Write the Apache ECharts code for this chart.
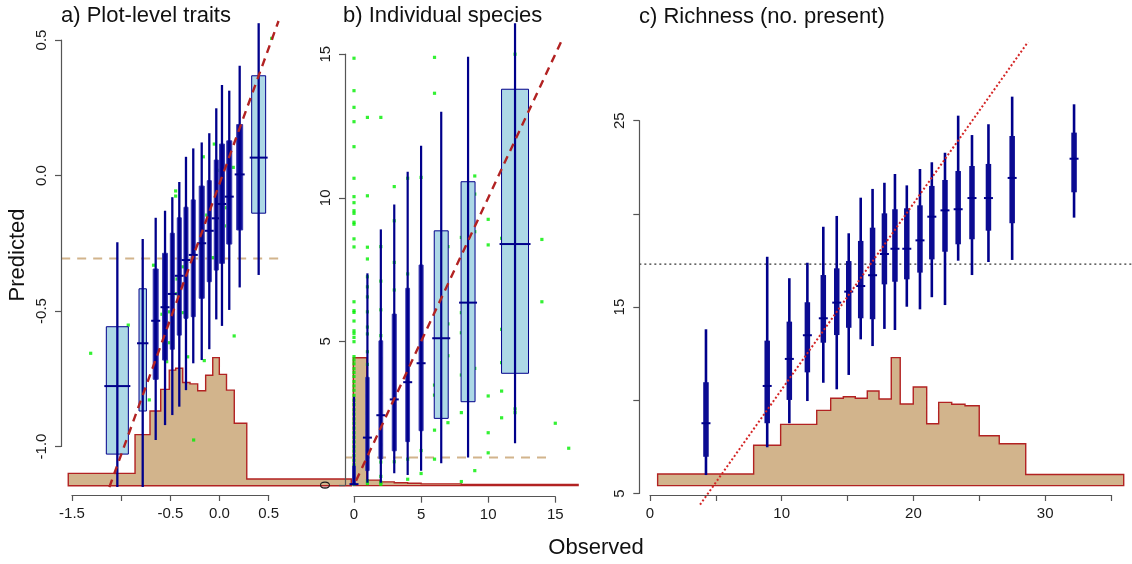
<!DOCTYPE html>
<html>
<head>
<meta charset="utf-8">
<script src="https://cdn.jsdelivr.net/npm/echarts@6/dist/echarts.min.js"></script>
<style>
  html, body { margin: 0; padding: 0; background: #ffffff; }
  #chart { width: 1132px; height: 564px; }
</style>
</head>
<body>
<div id="chart"></div>
<script>
// ---------- a) Plot-level traits ----------
const boxXA   = [-1.039, -0.781, -0.649, -0.554, -0.480, -0.409, -0.341, -0.267, -0.181, -0.104, -0.033, 0.025, 0.099, 0.205, 0.398];
const lowA    = [-1.250, -1.250, -0.976, -0.921, -0.884, -0.853, -0.792, -0.693, -0.681, -0.641, -0.531, -0.555, -0.496, -0.413, -0.367];
const q1A     = [-1.028, -0.869, -0.752, -0.681, -0.641, -0.589, -0.527, -0.521, -0.453, -0.392, -0.349, -0.324, -0.253, -0.201, -0.139];
const medA    = [-0.777, -0.619, -0.536, -0.486, -0.437, -0.370, -0.312, -0.293, -0.250, -0.204, -0.158, -0.105, -0.078, 0.004, 0.066];
const q3A     = [-0.558, -0.418, -0.345, -0.287, -0.213, -0.156, -0.117, -0.090, -0.039, -0.019, 0.057, 0.116, 0.128, 0.188, 0.368];
const highA   = [-0.246, -0.234, -0.156, -0.130, -0.080, -0.024, 0.069, 0.100, 0.122, 0.156, 0.248, 0.334, 0.313, 0.405, 0.562];
const widthA  = [0.224, 0.075, 0.051, 0.051, 0.041, 0.041, 0.041, 0.041, 0.051, 0.041, 0.041, 0.051, 0.051, 0.061, 0.142];
const pointsA = [
  [0.530, 0.506], [-0.446, -0.057], [-0.446, -0.076], [-0.671, -0.331], [-0.376, -0.337],
  [-0.165, 0.069], [-0.053, 0.116], [-0.007, 0.019], [0.140, 0.030], [-0.130, -0.146],
  [0.073, -0.119], [0.049, -0.186], [-0.071, -0.303], [-1.310, -0.656], [-0.928, -0.552],
  [-0.714, -0.828], [-0.585, -0.512], [-0.514, -0.503], [-0.470, -0.473], [-0.435, -0.436],
  [-0.512, -0.617], [-0.537, -0.687], [-0.324, -0.669], [-0.155, -0.683], [0.149, -0.592],
  [-0.263, -0.976], [-0.374, -0.506], [-0.432, -0.382]
];
const histEdgesA   = [-1.538, -0.859, -0.707, -0.598, -0.511, -0.446, -0.374, -0.300, -0.222, -0.141, -0.069, -0.002, 0.071, 0.150, 0.277, 1.340];
const histHeightsA = [-1.099, -0.956, -0.869, -0.789, -0.718, -0.711, -0.764, -0.769, -0.794, -0.737, -0.672, -0.734, -0.792, -0.914, -1.120];
const histBaseA = -1.145;
const diagA  = [[-1.12, -1.15], [0.60, 0.57]];
const hlineA = [[-1.61, -0.306], [0.615, -0.306]];

// ---------- b) Individual species ----------
const boxXB  = [0, 1, 2, 3, 4, 5, 6.5, 8.5, 12];
const lowB   = [0.00, 0.08, 0.08, 0.41, 0.35, 0.50, 0.76, 0.96, 1.45];
const q1B    = [0.00, 0.50, 0.91, 1.19, 1.51, 1.89, 2.32, 2.90, 3.89];
const medB   = [0.03, 1.65, 2.43, 2.98, 3.58, 4.24, 5.11, 6.35, 8.39];
const q3B    = [0.66, 3.75, 5.02, 5.95, 6.85, 7.66, 8.85, 10.56, 13.78];
const highB  = [3.07, 7.37, 8.90, 9.77, 10.91, 11.81, 13.00, 14.91, 16.08];
const widthB = [0.22, 0.25, 0.28, 0.30, 0.28, 0.30, 1.04, 1.04, 2.01];
const pointsBy = {
  0:  [14.86, 13.73, 13.15, 12.65, 11.78, 10.68, 10.04, 9.83, 9.55, 9.46, 9.15, 9.08, 8.57, 8.29, 6.38, 6.07, 6.01, 5.71, 5.37, 5.28, 5.14, 4.99, 4.47, 4.35, 4.22, 4.05, 3.92, 3.78, 3.60, 3.45, 3.30, 3.12, 2.95, 2.80, 2.62, 2.47, 2.30, 2.15, 1.98, 1.82, 1.66, 1.50, 1.33, 1.18, 1.02, 0.86, 0.70, 0.55, 0.40, 0.25, 0.10, 0.02],
  1:  [12.80, 10.07, 8.28, 7.87, 7.25, 6.90, 6.55, 6.03, 5.50, 5.26, 4.64, 4.20, 3.60, 3.10, 2.50, 1.90, 1.20, 0.60, 0.15, 0.05],
  2:  [12.80, 8.30, 7.10, 6.10, 5.20, 4.40, 3.20, 2.10, 1.40, 0.80, 0.30, 0.10, 0.02],
  3:  [10.39, 9.20, 7.75, 6.79, 5.00, 3.48, 2.73, 1.68, 1.33, 0.81],
  4:  [10.68, 7.35, 5.75, 5.05, 3.90, 2.20, 0.90, 0.20],
  5:  [10.71, 6.90, 4.60, 2.60, 1.20, 0.40],
  6:  [14.89, 13.64, 3.48, 3.13, 1.91, 0.90],
  7:  [8.30, 5.61, 4.50, 2.17],
  8:  [8.62, 6.00, 5.30, 3.83, 2.52, 0.12],
  9:  [10.76, 10.13, 8.82, 4.06, 0.50],
  10: [9.25, 8.36, 3.10, 1.82, 1.12],
  11: [8.59, 5.42, 4.26, 3.27, 2.34],
  12: [15.00, 2.65, 2.52],
  14: [8.55, 6.38],
  15: [2.15],
  16: [1.28]
};
const histEdgesB   = [-0.05, 0.95, 1.95, 3.0, 4.0, 5.0, 8.0, 16.7];
const histHeightsB = [4.43, 0.17, 0.11, 0.08, 0.06, 0.04, 0.02];
const histBaseB = -0.02;
const diagB  = [[0.15, 0.15], [15.6, 15.6]];
const hlineB = [[-0.67, 0.96], [14.83, 0.96]];

// ---------- c) Richness (no. present) ----------
const boxXC  = [4.25, 8.9, 10.58, 11.95, 13.16, 14.18, 15.09, 16.0, 16.9, 17.8, 18.6, 19.5, 20.5, 21.4, 22.4, 23.4, 24.45, 25.7, 27.5, 32.2];
const lowC   = [5.99, 7.48, 8.77, 9.96, 10.94, 10.59, 11.36, 13.27, 12.91, 13.83, 13.77, 15.02, 14.88, 15.53, 15.11, 17.49, 16.72, 17.42, 17.53, 19.80];
const q1C    = [6.97, 8.77, 10.02, 11.50, 13.09, 13.50, 13.89, 14.40, 14.35, 16.22, 16.36, 16.49, 16.85, 17.56, 17.97, 18.37, 18.64, 19.10, 19.50, 21.16];
const medC   = [8.77, 10.77, 12.22, 13.49, 14.40, 15.24, 15.83, 16.13, 16.71, 17.85, 18.13, 18.13, 18.58, 19.85, 20.19, 20.25, 20.85, 20.85, 21.93, 22.96];
const q3C    = [10.97, 13.20, 14.22, 15.26, 16.72, 17.08, 17.47, 18.55, 19.26, 20.03, 20.25, 20.30, 20.46, 21.50, 21.82, 22.30, 22.57, 22.68, 24.18, 24.36];
const highC  = [13.81, 17.70, 16.55, 17.38, 19.31, 19.89, 18.96, 20.87, 21.34, 21.67, 22.14, 21.53, 22.41, 22.77, 23.28, 25.27, 24.23, 24.81, 26.29, 25.88];
const histEdgesC   = [0.58, 7.87, 9.92, 12.66, 13.72, 14.68, 15.59, 16.50, 17.39, 18.32, 19.00, 19.99, 21.01, 21.92, 22.91, 23.92, 25.00, 26.52, 28.53, 35.97];
const histHeightsC = [6.05, 7.59, 8.71, 9.46, 10.11, 10.19, 10.11, 10.50, 10.07, 12.29, 9.80, 10.71, 8.74, 9.89, 9.79, 9.71, 8.10, 7.67, 6.02];
const histBaseC = 5.42;
const diagC  = [[3.8, 4.4], [28.7, 29.22]];
const hlineC = [[-0.81, 17.31], [36.6, 17.31]];

// ---------- styling ----------
const NAVY = '#00008B', LIGHT = '#ADD8E6', TAN = '#D2B48C', BRICK = '#B22222', GREEN = '#00EE00';
const FAMILY = '"Liberation Sans", Arial, Helvetica, sans-serif';
const AXIS_COLOR = '#555555';

const chart = echarts.init(document.getElementById('chart'));

function zip(x, lo, q1, md, q3, hi, w) {
  return x.map((v, i) => [v, lo[i], q1[i], md[i], q3[i], hi[i], w ? w[i] : 0]);
}

// box: light-blue IQR rectangle (solid when very narrow), whisker line, median tick
function boxRenderer(whiskerWidth) {
  return function (params, api) {
    const x = api.value(0), lo = api.value(1), q1 = api.value(2), md = api.value(3),
          q3 = api.value(4), hi = api.value(5), w = api.value(6);
    const tl = api.coord([x - w / 2, q3]);
    const br = api.coord([x + w / 2, q1]);
    const top = api.coord([x, hi]), bot = api.coord([x, lo]), mid = api.coord([x, md]);
    const wpx = br[0] - tl[0];
    const narrow = wpx < 7;
    const half = Math.max(wpx / 2 + 2, 4.5);
    return {
      type: 'group',
      children: [
        { type: 'rect', shape: { x: tl[0], y: tl[1], width: wpx, height: br[1] - tl[1] },
          style: { fill: narrow ? '#10109A' : LIGHT, stroke: narrow ? '#3A3AAE' : NAVY, lineWidth: 1 } },
        { type: 'line', shape: { x1: top[0], y1: top[1], x2: bot[0], y2: bot[1] },
          style: { stroke: NAVY, lineWidth: whiskerWidth } },
        { type: 'line', shape: { x1: mid[0] - half, y1: mid[1], x2: mid[0] + half, y2: mid[1] },
          style: { stroke: NAVY, lineWidth: 2 } }
      ]
    };
  };
}

// richness intervals: thin outer line, thick inner line, median tick
function intervalRenderer(params, api) {
  const x = api.value(0);
  const lo = api.coord([x, api.value(1)]), q1 = api.coord([x, api.value(2)]),
        md = api.coord([x, api.value(3)]), q3 = api.coord([x, api.value(4)]),
        hi = api.coord([x, api.value(5)]);
  return {
    type: 'group',
    children: [
      { type: 'line', shape: { x1: hi[0], y1: hi[1], x2: lo[0], y2: lo[1] },
        style: { stroke: NAVY, lineWidth: 2.6 } },
      { type: 'line', shape: { x1: q3[0], y1: q3[1], x2: q1[0], y2: q1[1] },
        style: { stroke: '#0B0B92', lineWidth: 5.5 } },
      { type: 'line', shape: { x1: md[0] - 4.5, y1: md[1], x2: md[0] + 4.5, y2: md[1] },
        style: { stroke: NAVY, lineWidth: 2 } }
    ]
  };
}

// step histogram drawn as one closed outline
function histSeries(gridIdx, edges, heights, base) {
  return {
    type: 'custom', xAxisIndex: gridIdx, yAxisIndex: gridIdx, clip: true, z: 1,
    data: [[edges[0], base]],
    renderItem: function (params, api) {
      const pts = [api.coord([edges[0], base])];
      for (let i = 0; i < heights.length; i++) {
        pts.push(api.coord([edges[i], heights[i]]));
        pts.push(api.coord([edges[i + 1], heights[i]]));
      }
      pts.push(api.coord([edges[edges.length - 1], base]));
      return {
        type: 'polygon', shape: { points: pts },
        style: { fill: TAN, stroke: BRICK, lineWidth: 1.4, opacity: 1 }
      };
    }
  };
}

function lineSeries(gridIdx, data, color, width, dash, z) {
  return {
    type: 'line', xAxisIndex: gridIdx, yAxisIndex: gridIdx, data: data,
    showSymbol: false, symbol: 'none', clip: true, z: z || 3, silent: true,
    lineStyle: { color: color, width: width, type: dash, cap: 'butt' }
  };
}

function scatterSeries(gridIdx, data) {
  return {
    type: 'scatter', xAxisIndex: gridIdx, yAxisIndex: gridIdx, data: data,
    symbol: 'rect', symbolSize: 3.2, clip: true, z: 2, silent: true,
    itemStyle: { color: GREEN }
  };
}

// ---------- grids: one plotting region and two axis strips per panel ----------
const grids = [
  { left: 61,    top: 20,    width: 291,   height: 467 },   // 0 a plot
  { left: 61,    top: 40,    width: 20,    height: 406.5 }, // 1 a y-axis
  { left: 72,    top: 485,   width: 196.7, height: 10 },    // 2 a x-axis
  { left: 345,   top: 20,    width: 235,   height: 467 },   // 3 b plot
  { left: 345,   top: 54.2,  width: 20,    height: 430.8 }, // 4 b y-axis
  { left: 354,   top: 486.7, width: 201.3, height: 10 },    // 5 b x-axis
  { left: 639.3, top: 42,    width: 492.7, height: 463 },   // 6 c plot
  { left: 639.3, top: 120.7, width: 20,    height: 372.8 }, // 7 c y-axis
  { left: 650,   top: 485,   width: 461,   height: 10 }     // 8 c x-axis
];

const hidden = (gi, min, max) => ({ type: 'value', gridIndex: gi, min: min, max: max, show: false });

const labelText = { color: '#1a1a1a', fontFamily: FAMILY, fontSize: 15 };

function shownX(gi, min, max, interval, fmt) {
  return {
    type: 'value', gridIndex: gi, min: min, max: max, interval: interval, position: 'bottom', z: 10,
    axisLine: { show: true, lineStyle: { color: AXIS_COLOR, width: 1.2 } },
    axisTick: { show: true, length: 6, lineStyle: { color: AXIS_COLOR, width: 1.2 } },
    axisLabel: Object.assign({ margin: 11, formatter: fmt, hideOverlap: false, showMinLabel: true, showMaxLabel: true }, labelText),
    splitLine: { show: false }
  };
}
function shownY(gi, min, max, interval, fmt) {
  return {
    type: 'value', gridIndex: gi, min: min, max: max, interval: interval, position: 'left', z: 10,
    axisLine: { show: true, lineStyle: { color: AXIS_COLOR, width: 1.2 } },
    axisTick: { show: true, length: 6, lineStyle: { color: AXIS_COLOR, width: 1.2 } },
    axisLabel: Object.assign({ margin: 12, rotate: 90, formatter: fmt, hideOverlap: false, showMinLabel: true, showMaxLabel: true }, labelText),
    splitLine: { show: false }
  };
}

const fmtA = v => (Math.abs(v + 1) < 1e-9 ? '' : v.toFixed(1));
const fmtAy = v => v.toFixed(1);
const fmtInt = v => String(Math.round(v));
const fmtCx = v => (Math.round(v) % 10 === 0 ? String(Math.round(v)) : '');
const fmtCy = v => (Math.round(v) % 10 === 5 ? String(Math.round(v)) : '');

const xAxes = [
  hidden(0, -1.6118, 1.3470),
  hidden(1, 0, 1),
  shownX(2, -1.5, 0.5, 0.5, fmtA),
  hidden(3, -0.6706, 16.841),
  hidden(4, 0, 1),
  shownX(5, 0, 15, 5, fmtInt),
  hidden(6, -0.8125, 36.60),
  hidden(7, 0, 1),
  shownX(8, 0, 35, 5, fmtCx)
];
const yAxes = [
  hidden(0, -1.1494, 0.5738),
  shownY(1, -1.0, 0.5, 0.5, fmtAy),
  hidden(2, 0, 1),
  hidden(3, -0.0696, 16.191),
  shownY(4, 0, 15, 5, fmtInt),
  hidden(5, 0, 1),
  hidden(6, 4.383, 29.222),
  shownY(7, 5, 25, 5, fmtCy),
  hidden(8, 0, 1)
];

const pointsB = [];
Object.keys(pointsBy).forEach(k => pointsBy[k].forEach(y => pointsB.push([Number(k), y])));

const series = [
  // panel a
  histSeries(0, histEdgesA, histHeightsA, histBaseA),
  lineSeries(0, hlineA, TAN, 2, [9, 7], 2),
  scatterSeries(0, pointsA),
  { type: 'custom', xAxisIndex: 0, yAxisIndex: 0, clip: true, z: 4,
    data: zip(boxXA, lowA, q1A, medA, q3A, highA, widthA), renderItem: boxRenderer(2.3) },
  lineSeries(0, diagA, BRICK, 2.4, [8, 6], 5),
  // panel b
  histSeries(3, histEdgesB, histHeightsB, histBaseB),
  lineSeries(3, hlineB, TAN, 2, [9, 7], 2),
  scatterSeries(3, pointsB),
  { type: 'custom', xAxisIndex: 3, yAxisIndex: 3, clip: true, z: 4,
    data: zip(boxXB, lowB, q1B, medB, q3B, highB, widthB), renderItem: boxRenderer(2.2) },
  lineSeries(3, diagB, BRICK, 2.4, [8, 6], 5),
  // panel c
  histSeries(6, histEdgesC, histHeightsC, histBaseC),
  lineSeries(6, hlineC, '#333333', 1.2, [2, 3], 2),
  { type: 'custom', xAxisIndex: 6, yAxisIndex: 6, clip: true, z: 4,
    data: zip(boxXC, lowC, q1C, medC, q3C, highC), renderItem: intervalRenderer },
  lineSeries(6, diagC, '#D42626', 2, [2, 2.2], 5)
];

const textStyle = (text, x, y, size, extra) => Object.assign({
  type: 'text', x: x, y: y, z: 20,
  style: { text: text, fill: '#111111', font: size + 'px ' + FAMILY,
           textVerticalAlign: 'middle', verticalAlign: 'middle', textAlign: 'left', align: 'left' }
}, extra || {});

chart.setOption({
  animation: false,
  backgroundColor: '#ffffff',
  grid: grids,
  xAxis: xAxes,
  yAxis: yAxes,
  series: series,
  graphic: [
    textStyle('a) Plot-level traits', 61, 16, 22),
    textStyle('b) Individual species', 343, 16, 22),
    textStyle('c) Richness (no. present)', 639, 17, 22),
    {
      type: 'text', x: 18, y: 255, rotation: Math.PI / 2, z: 20,
      style: { text: 'Predicted', fill: '#111111', font: '22px ' + FAMILY,
               textAlign: 'center', align: 'center', textVerticalAlign: 'middle', verticalAlign: 'middle' }
    },
    {
      type: 'text', x: 596, y: 548, z: 20,
      style: { text: 'Observed', fill: '#111111', font: '22px ' + FAMILY,
               textAlign: 'center', align: 'center', textVerticalAlign: 'middle', verticalAlign: 'middle' }
    }
  ]
});
</script>
</body>
</html>
